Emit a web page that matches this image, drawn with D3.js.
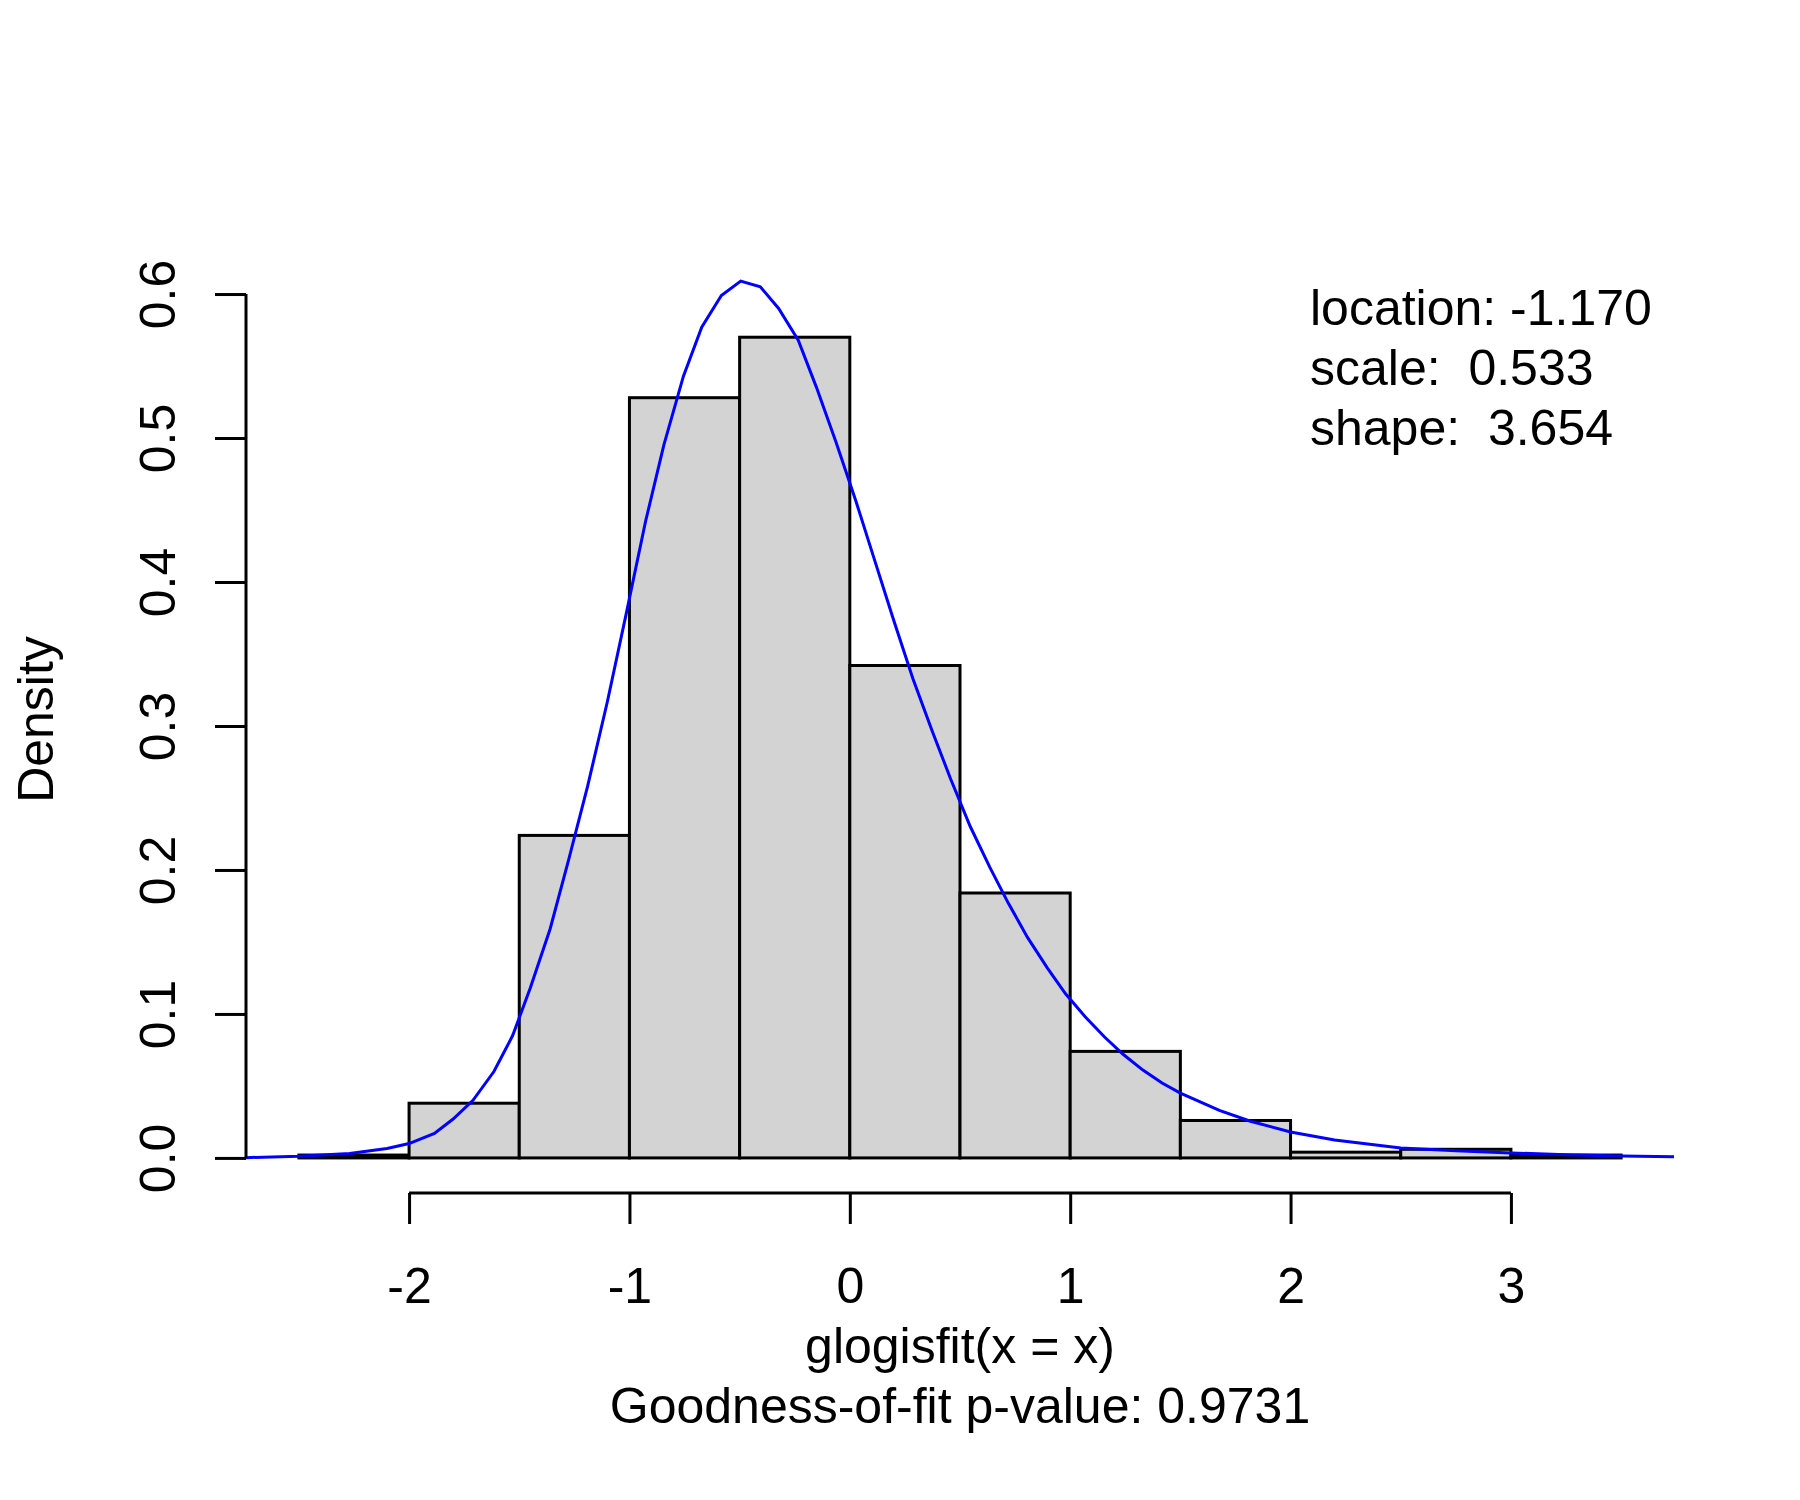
<!DOCTYPE html>
<html>
<head>
<meta charset="utf-8">
<script src="https://cdn.jsdelivr.net/npm/d3@7"></script>
<style>
  body { margin: 0; background: #fff; }
  text { font-family: "Liberation Sans", Arial, Helvetica, sans-serif; font-size: 50px; fill: #000; }
</style>
</head>
<body>
<div id="chart"></div>
<script>

// histogram bins (density scale)
const breaks = [-2.5, -2, -1.5, -1, -0.5, 0, 0.5, 1, 1.5, 2, 2.5, 3, 3.5];
const densities = [0.002, 0.038, 0.224, 0.528, 0.570, 0.342, 0.184, 0.074, 0.026, 0.004, 0.006, 0.002];

// fitted density curve
const curveX = [-2.74, -2.5, -2.27, -2.1, -2.0, -1.885, -1.8, -1.71, -1.615, -1.53, -1.45, -1.36,
  -1.276, -1.19, -1.1, -1.016, -0.927, -0.844, -0.755, -0.672, -0.583, -0.495, -0.406, -0.323,
  -0.234, -0.151, -0.0625, 0.026, 0.115, 0.198, 0.286, 0.375, 0.458, 0.547, 0.635, 0.719,
  0.807, 0.896, 0.979, 1.068, 1.156, 1.24, 1.33, 1.417, 1.5, 1.677, 1.818, 2.0, 2.2, 2.5,
  2.75, 3.0, 3.25, 3.5, 3.74];
const curveY = [0.0002, 0.0012, 0.003, 0.0065, 0.0100, 0.017, 0.027, 0.040, 0.060, 0.085, 0.118, 0.159,
  0.207, 0.258, 0.317, 0.377, 0.442, 0.495, 0.543, 0.577, 0.599, 0.609, 0.605, 0.590,
  0.568, 0.535, 0.497, 0.457, 0.414, 0.374, 0.333, 0.296, 0.263, 0.230, 0.202, 0.177,
  0.153, 0.132, 0.114, 0.098, 0.084, 0.072, 0.061, 0.052, 0.045, 0.033, 0.0255, 0.018, 0.0125, 0.0069,
  0.005, 0.0035, 0.0022, 0.0014, 0.0009];

const xTicks = [-2, -1, 0, 1, 2, 3];
const yTicks = [0.0, 0.1, 0.2, 0.3, 0.4, 0.5, 0.6];

const fitLines = ["location: -1.170", "scale:  0.533", "shape:  3.654"];
const xTitle = "glogisfit(x = x)";
const subTitle = "Goodness-of-fit p-value: 0.9731";

// R-like margins (60px per line)
let margin = {top: 246, right: 126, bottom: 307, left: 246};
let width = 1800 - margin.left - margin.right,
    height = 1500 - margin.top - margin.bottom;

let svg = d3.select("#chart").append("svg")
    .attr("width", 1800)
    .attr("height", 1500);

let g = svg.append("g")
    .attr("transform", "translate(" + margin.left + "," + margin.top + ")");

// domains extended by 4% like R
let xMin = d3.min(breaks), xMax = d3.max(breaks);
let xPad = (xMax - xMin) * 0.04;
let yMax = Math.max(d3.max(densities), d3.max(curveY));
let yPad = yMax * 0.04;

let x = d3.scaleLinear()
    .domain([xMin - xPad, xMax + xPad])
    .range([0, width]);

let y = d3.scaleLinear()
    .domain([-yPad, yMax + yPad])
    .range([height, 0]);

// bars
let bins = densities.map((d, i) => ({x0: breaks[i], x1: breaks[i + 1], d: d}));

g.selectAll(".bar")
    .data(bins)
    .enter().append("rect")
    .attr("class", "bar")
    .attr("x", d => x(d.x0))
    .attr("y", d => y(d.d))
    .attr("width", d => x(d.x1) - x(d.x0))
    .attr("height", d => y(0) - y(d.d))
    .attr("fill", "#d3d3d3")
    .attr("stroke", "#000")
    .attr("stroke-width", 3);

// fitted curve
let line = d3.line()
    .x(d => x(d[0]))
    .y(d => y(d[1]));

g.append("path")
    .datum(curveX.map((v, i) => [v, curveY[i]]))
    .attr("fill", "none")
    .attr("stroke", "#0000ff")
    .attr("stroke-width", 3)
    .attr("d", line);

// plain hyphen for negatives, like R
let fmtInt = d => String(d);

// x axis
let xAxis = d3.axisBottom(x)
    .tickValues(xTicks)
    .tickFormat(fmtInt)
    .tickSize(31)
    .tickSizeOuter(0)
    .tickPadding(0);

let xAxisGroup = g.append("g")
    .attr("class", "axis x-axis")
    .attr("transform", "translate(0," + height + ")")
    .call(xAxis);

xAxisGroup.select(".domain")
    .attr("d", "M" + x(d3.min(xTicks)) + ",0H" + x(d3.max(xTicks)));

xAxisGroup.selectAll("text")
    .attr("y", 110)
    .attr("dy", null)
    .style("font-size", "50px")
    .style("font-family", "'Liberation Sans', Arial, sans-serif");

// y axis
let yAxis = d3.axisLeft(y)
    .tickValues(yTicks)
    .tickFormat(d => d.toFixed(1))
    .tickSize(31)
    .tickSizeOuter(0);

let yAxisGroup = g.append("g")
    .attr("class", "axis y-axis")
    .call(yAxis);

yAxisGroup.select(".domain")
    .attr("d", "M0," + y(d3.min(yTicks)) + "V" + y(d3.max(yTicks)));

yAxisGroup.selectAll("text")
    .attr("x", null)
    .attr("dy", null)
    .attr("text-anchor", "middle")
    .attr("transform", "translate(-71,0) rotate(-90)")
    .style("font-size", "50px")
    .style("font-family", "'Liberation Sans', Arial, sans-serif");

svg.selectAll(".axis path, .axis line")
    .attr("stroke", "#000")
    .attr("stroke-width", 3);

// axis titles
svg.append("text")
    .attr("x", margin.left + width / 2)
    .attr("y", 1363)
    .attr("text-anchor", "middle")
    .text(xTitle);

svg.append("text")
    .attr("x", margin.left + width / 2)
    .attr("y", 1423)
    .attr("text-anchor", "middle")
    .text(subTitle);

svg.append("text")
    .attr("transform", "translate(53," + (margin.top + height / 2) + ") rotate(-90)")
    .attr("text-anchor", "middle")
    .text("Density");

// fit parameters
svg.selectAll(".fit-text")
    .data(fitLines)
    .enter().append("text")
    .attr("class", "fit-text")
    .attr("x", 1310)
    .attr("y", (d, i) => 325 + i * 60)
    .style("white-space", "pre")
    .text(d => d);

</script>
</body>
</html>
